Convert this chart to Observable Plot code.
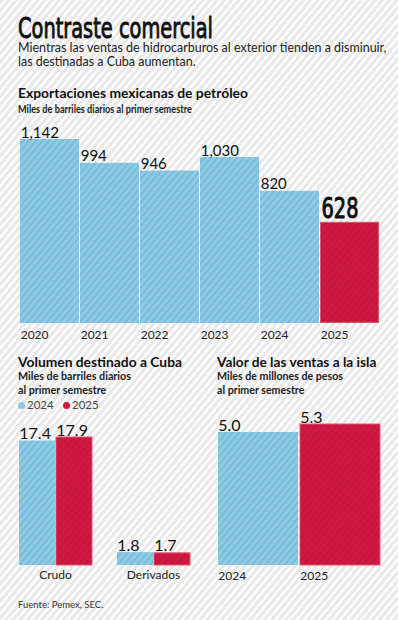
<!DOCTYPE html>
<html><head><meta charset="utf-8">
<script src="https://cdn.jsdelivr.net/npm/d3@7"></script>
<script src="https://cdn.jsdelivr.net/npm/@observablehq/plot@0.6"></script>
<style>
html,body{margin:0;padding:0;background:#ececec;}
#root{position:relative;width:398px;height:620px;overflow:hidden;background-color:#e9e9e9;
background-image:repeating-linear-gradient(130deg, rgba(255,255,255,0) 0px, rgba(255,255,255,0) 3px, rgba(255,255,255,0.9) 3px, rgba(255,255,255,0.9) 5.5px);
font-family:Lato, sans-serif;color:#1a1a1a;}
.t{position:absolute;white-space:pre;}
.plot{position:absolute;overflow:visible;}
.dot{position:absolute;width:7px;height:7px;border-radius:50%;}
</style></head><body>
<div id="root"></div>
<svg width="0" height="0" style="position:absolute">
<defs>
<pattern id="hatch" width="5" height="5" patternUnits="userSpaceOnUse" patternTransform="rotate(40)">
<rect width="1.7" height="5" fill="rgba(0,40,90,0.12)"/>
</pattern>
</defs></svg>
<script>
// ---- data ----
const years = ["2020","2021","2022","2023","2024","2025"];
const exportsKbd = [1142, 994, 946, 1030, 820, 628];
const exportLabels = ["1,142","994","946","1,030","820","628"];
const cubaCategories = ["Crudo","Derivados"];
const cubaSeries = ["2024","2025"];
const cubaCrudo = [17.4, 17.9];
const cubaDerivados = [1.8, 1.7];
const cubaLabels = [["17.4","17.9"],["1.8","1.7"]];
const salesYears = ["2024","2025"];
const salesValue = [5.0, 5.3];
const salesLabels = ["5.0","5.3"];

const blue = "#8ccbe6", red = "#d3173f", redEdge = "#e6566c";
const root = document.getElementById("root");
const ctx = document.createElement("canvas").getContext("2d");

function hasFont(name){
  const s = "abcdefghijklmnopqrstuvwxyz0123456789";
  for (const base of ["monospace", "serif"]) {
    ctx.font = `40px ${base}`; const w0 = ctx.measureText(s).width;
    ctx.font = `40px '${name}', ${base}`; const w1 = ctx.measureText(s).width;
    if (Math.abs(w0 - w1) > 0.5) return true;
  }
  return false;
}
const condName = ["DejaVu Sans Condensed", "Liberation Sans Narrow", "Roboto Condensed"].find(hasFont) || "Roboto";
const COND = `'${condName}'`;

// lines: array of strings; baseline of first line; lh = line step
function addText(lines, x, baseline, size, family, weight, targetWidth, color, lh){
  if (!Array.isArray(lines)) lines = [lines];
  const font = `${weight} ${size}px ${family}`;
  ctx.font = font;
  const m = ctx.measureText(lines[0]);
  const A = m.fontBoundingBoxAscent, D = m.fontBoundingBoxDescent;
  const L = lh || Math.round(size * 0.9);
  const el = document.createElement("div");
  el.className = "t";
  el.textContent = lines.join("\n");
  el.style.font = font;
  el.style.lineHeight = L + "px";
  el.style.left = x + "px";
  el.style.top = (baseline - ((L - (A + D)) / 2 + A)) + "px";
  if (color) el.style.color = color;
  if (targetWidth) { el.style.transformOrigin = "0 0"; el.style.transform = `scaleX(${targetWidth / m.width})`; }
  root.appendChild(el);
  return el;
}
const LATO = "Lato";

// ---- headings ----
const titleEl = addText("Contraste comercial", 18, 38, 29, COND, 400, 195, "#111", 23);
titleEl.style.webkitTextStroke = "0.9px #111";
addText(["Mientras las ventas de hidrocarburos al exterior tienden a disminuir,", "las destinadas a Cuba aumentan."], 18, 53, 13.5, LATO, 400, 369, "#222", 13.5);
addText("Exportaciones mexicanas de petróleo", 18, 98, 13.5, LATO, 700, 230, "#111");
addText("Miles de barriles diarios al primer semestre", 18, 113, 10.5, LATO, 700, 174, "#222");

// ---- main chart ----
const mainData = years.map((y, i) => ({year: y, value: exportsKbd[i], label: exportLabels[i], hi: i === years.length - 1}));
const mainPlot = Plot.plot({
  width: 398, height: 240,
  marginLeft: 18, marginRight: 18, marginTop: 19, marginBottom: 37,
  x: {domain: years, paddingInner: 0.02, paddingOuter: 0, axis: null},
  y: {domain: [0, d3.max(exportsKbd)], axis: null},
  style: {background: "transparent", fontFamily: "Lato", overflow: "visible"},
  marks: [
    Plot.barY(mainData, {filter: d => !d.hi, x: "year", y: "value", fill: blue}),
    Plot.barY(mainData, {filter: d => d.hi, x: "year", y: "value", fill: red, stroke: redEdge, strokeWidth: 1, inset: 0.5}),
    Plot.barY(mainData, {x: "year", y: "value", fill: "url(#hatch)"}),
    Plot.text(mainData, {filter: d => !d.hi, x: "year", y: "value", text: "label", textAnchor: "start", lineAnchor: "bottom", dx: -29.3, dy: -2, fontSize: 15, fill: "#111"}),
    Plot.text(mainData, {filter: d => d.hi, x: "year", y: "value", text: "label", textAnchor: "start", lineAnchor: "bottom", dx: -28.5, dy: -4, fontSize: 29, fontWeight: 400, fontFamily: condName, fill: "#111", stroke: "#111", strokeWidth: 1}),
    Plot.text(mainData, {x: "year", text: "year", frameAnchor: "bottom", textAnchor: "start", lineAnchor: "bottom", dx: -29.3, dy: 15, fontSize: 12, fill: "#222"})
  ]
});
mainPlot.classList.add("plot");
mainPlot.style.left = "0px"; mainPlot.style.top = "120px";
root.appendChild(mainPlot);
// condense the highlighted label to a 37px-wide figure
{
  const lastLabel = exportLabels[exportLabels.length - 1];
  const big = Array.from(mainPlot.querySelectorAll("text")).find(t => t.textContent === lastLabel);
  if (big) {
    const w = big.getComputedTextLength();
    const s = 37 / w;
    const bx = +big.getAttribute("x") || 0;
    big.setAttribute("transform", `${big.getAttribute("transform") || ""} translate(${bx},0) scale(${s},1) translate(${-bx},0)`);
  }
}

// ---- lower left: volume to Cuba ----
addText("Volumen destinado a Cuba", 18, 367, 13.5, LATO, 700, 164, "#111");
addText(["Miles de barriles diarios", "al primer semestre"], 18, 380, 11, LATO, 700, 113, "#222", 14);

const cubaRows = cubaCategories.flatMap((c, i) => cubaSeries.map((s, j) => ({
  cat: c, series: s, value: (i === 0 ? cubaCrudo : cubaDerivados)[j], label: cubaLabels[i][j]
})));
const leftPlot = Plot.plot({
  width: 200, height: 200,
  marginLeft: 18, marginRight: 10, marginTop: 37, marginBottom: 35,
  facet: {data: cubaRows, x: "cat"},
  fx: {domain: cubaCategories, paddingInner: 0.245, paddingOuter: 0, axis: "bottom", label: null, tickSize: 0, tickPadding: 5},
  x: {domain: cubaSeries, paddingInner: 0.03, paddingOuter: 0, axis: null},
  y: {domain: [0, d3.max(cubaCrudo)], axis: null},
  color: {domain: cubaSeries, range: [blue, red]},
  style: {background: "transparent", fontFamily: "Lato", fontSize: "12px", color: "#222", overflow: "visible"},
  marks: [
    Plot.barY(cubaRows, {x: "series", y: "value", fill: "series", stroke: d => d.series === "2025" ? redEdge : "none", strokeWidth: 1}),
    Plot.barY(cubaRows, {x: "series", y: "value", fill: "url(#hatch)"}),
    Plot.text(cubaRows, {x: "series", y: "value", text: "label", textAnchor: "start", lineAnchor: "bottom", dx: -18.2, dy: -2, fontSize: 16, fill: "#111"})
  ]
});
leftPlot.classList.add("plot");
leftPlot.style.left = "0px"; leftPlot.style.top = "400px";
root.appendChild(leftPlot);

// legend
cubaSeries.forEach((s, i) => {
  const dx = i === 0 ? 17.5 : 62.5;
  const d = document.createElement("div");
  d.className = "dot"; d.style.background = i === 0 ? blue : red;
  d.style.left = dx + "px"; d.style.top = "402px";
  root.appendChild(d);
  addText(s, dx + 9.5, 409.5, 11.5, LATO, 400, null, "#444");
});

// ---- lower right: value of sales ----
addText("Valor de las ventas a la isla", 217, 367, 13.5, LATO, 700, 160, "#111");
addText(["Miles de millones de pesos", "al primer semestre"], 217, 380, 11, LATO, 700, 126, "#222", 14);

const salesData = salesYears.map((y, i) => ({year: y, value: salesValue[i], label: salesLabels[i]}));
const rightPlot = Plot.plot({
  width: 198, height: 200,
  marginLeft: 17, marginRight: 18, marginTop: 24, marginBottom: 35,
  x: {domain: salesYears, paddingInner: 0.025, paddingOuter: 0, axis: null},
  y: {domain: [0, d3.max(salesValue)], axis: null},
  color: {domain: salesYears, range: [blue, red]},
  style: {background: "transparent", fontFamily: "Lato", overflow: "visible"},
  marks: [
    Plot.barY(salesData, {x: "year", y: "value", fill: "year", stroke: d => d.year === "2025" ? redEdge : "none", strokeWidth: 1}),
    Plot.barY(salesData, {x: "year", y: "value", fill: "url(#hatch)"}),
    Plot.text(salesData, {x: "year", y: "value", text: "label", textAnchor: "start", lineAnchor: "bottom", dx: -40.2, dy: -1.5, fontSize: 16, fill: "#111"}),
    Plot.text(salesData, {x: "year", text: "year", frameAnchor: "bottom", textAnchor: "start", lineAnchor: "bottom", dx: -40.2, dy: 14, fontSize: 12, fill: "#222"})
  ]
});
rightPlot.classList.add("plot");
rightPlot.style.left = "200px"; rightPlot.style.top = "400px";
root.appendChild(rightPlot);

addText("Fuente: Pemex, SEC.", 18, 608, 9.5, LATO, 400, null, "#333");
</script>
</body></html>
